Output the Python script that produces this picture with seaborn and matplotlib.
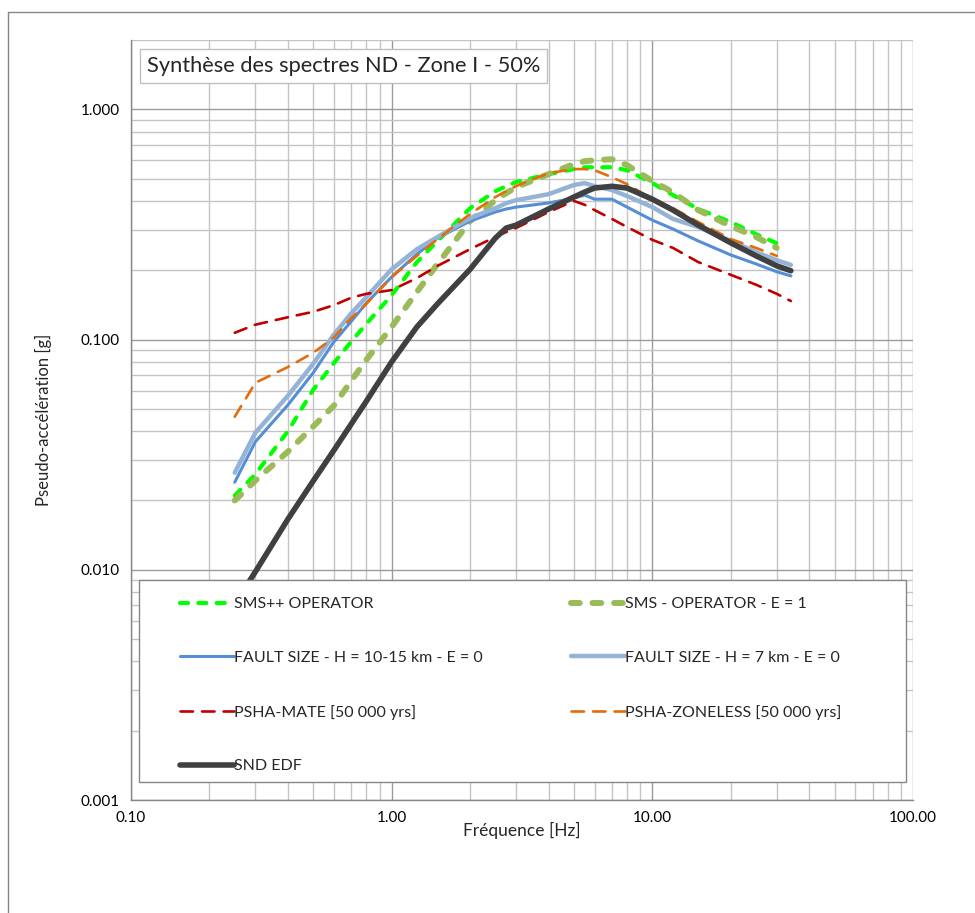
import numpy as np
import pandas as pd
import matplotlib
matplotlib.use("Agg")
import matplotlib.pyplot as plt
import matplotlib.ticker as mticker
from matplotlib.lines import Line2D
from matplotlib.patches import Rectangle
import seaborn as sns

# ---------------- data ----------------
freq = [0.25, 0.3, 0.4, 0.5, 0.6, 0.7, 0.8, 1.0, 1.25, 1.5, 2.0, 2.5, 2.75, 3.0,
        4.0, 5.0, 5.5, 6.0, 7.0, 8.0, 10.0, 12.0, 15.0, 20.0, 25.0, 30.0, 34.0]

sms_pp_operator = [0.021, 0.026, 0.040, 0.0605, 0.079, 0.098, 0.117, 0.156, 0.217, 0.268,
                   0.372, 0.441, 0.463, 0.483, 0.523, 0.55, 0.56, 0.56, 0.56, 0.544,
                   0.478, 0.424, 0.369, 0.324, 0.287, 0.262, np.nan]
sms_operator_e1 = [0.020, 0.0244, 0.0326, 0.0419, 0.0516, 0.0662, 0.0817, 0.1135, 0.161, 0.213,
                   0.327, 0.403, 0.432, 0.459, 0.523, 0.578, 0.595, 0.601, 0.607, 0.572,
                   0.488, 0.436, 0.365, 0.311, 0.279, 0.25, np.nan]
fault_10_15 = [0.024, 0.036, 0.052, 0.0717, 0.0977, 0.12, 0.144, 0.187, 0.235, 0.276,
               0.327, 0.358, 0.369, 0.376, 0.392, 0.411, 0.424, 0.407, 0.407, 0.376,
               0.33, 0.302, 0.268, 0.233, 0.213, 0.197, 0.189]
fault_7 = [0.0264, 0.0394, 0.057, 0.0785, 0.105, 0.13, 0.153, 0.202, 0.247, 0.279,
           0.337, 0.372, 0.391, 0.403, 0.428, 0.469, 0.478, 0.464, 0.446, 0.42,
           0.376, 0.334, 0.308, 0.268, 0.24, 0.221, 0.211]
psha_mate = [0.107, 0.116, 0.125, 0.132, 0.141, 0.152, 0.158, 0.164, 0.185, 0.209,
             0.247, 0.279, 0.293, 0.305, 0.358, 0.40, 0.385, 0.365, 0.334, 0.308,
             0.271, 0.25, 0.217, 0.191, 0.173, 0.158, 0.147]
psha_zoneless = [0.0462, 0.0649, 0.076, 0.0876, 0.102, 0.124, 0.143, 0.187, 0.231, 0.273,
                 0.351, 0.416, 0.441, 0.464, 0.528, 0.55, 0.55, 0.544, 0.507, 0.473,
                 0.407, 0.372, 0.324, 0.273, 0.25, 0.231, np.nan]
snd_edf = [0.0071, 0.0098, 0.0166, 0.0243, 0.033, 0.043, 0.054, 0.080, 0.1135, 0.143,
           0.202, 0.276, 0.305, 0.314, 0.369, 0.416, 0.437, 0.455, 0.463, 0.455,
           0.407, 0.365, 0.314, 0.263, 0.231, 0.209, 0.199]

labels = ["SMS++ OPERATOR", "SMS - OPERATOR - E = 1", "FAULT SIZE - H = 10-15 km - E = 0",
          "FAULT SIZE - H = 7 km - E = 0", "PSHA-MATE [50 000 yrs]",
          "PSHA-ZONELESS [50 000 yrs]", "SND EDF"]
series = [sms_pp_operator, sms_operator_e1, fault_10_15, fault_7, psha_mate,
          psha_zoneless, snd_edf]

x_ticks = [0.1, 1, 10, 100]
x_tick_labels = ["0.10", "1.00", "10.00", "100.00"]
y_ticks = [0.001, 0.01, 0.1, 1.0]
y_tick_labels = ["0.001", "0.010", "0.100", "1.000"]

title_text = "Synthèse des spectres ND - Zone I - 50%"

# ---------------- styles ----------------
styles = [
    dict(color="#00FF00", lw=3.0, dashes=(5.8, 7.4), cap="round"),
    dict(color="#9BBB59", lw=4.3, dashes=(6.3, 9.2), cap="round"),
    dict(color="#558ED5", lw=2.2, dashes=None, cap="round"),
    dict(color="#95B3D7", lw=3.2, dashes=None, cap="round"),
    dict(color="#C00000", lw=1.9, dashes=(9.0, 6.5), cap="round"),
    dict(color="#E46C0A", lw=1.9, dashes=(9.0, 6.5), cap="round"),
    dict(color="#404040", lw=4.0, dashes=None, cap="round"),
]

sns.set_style("white")
plt.rcParams["font.family"] = ["Lato", "DejaVu Sans"]
plt.rcParams["lines.scale_dashes"] = False

fig = plt.figure(figsize=(9.75, 9.13), dpi=100)
ax = fig.add_axes([131 / 975, 113 / 913, 782 / 975, 760 / 913])

for lab, vals, st in zip(labels, series, styles):
    d = pd.DataFrame({"freq": freq, "val": vals}).dropna()
    sns.lineplot(data=d, x="freq", y="val", ax=ax, color=st["color"], lw=st["lw"],
                 legend=False, sort=False, estimator=None)
    ln = ax.lines[-1]
    ln.set_solid_capstyle(st["cap"])
    ln.set_dash_capstyle(st["cap"])
    ln.set_solid_joinstyle("round")
    if st["dashes"] is not None:
        ln.set_dashes(st["dashes"])

ax.set_xscale("log")
ax.set_yscale("log")
ax.set_xlim(0.1, 100)
ax.set_ylim(0.001, 2.0)

ax.xaxis.set_major_locator(mticker.FixedLocator(x_ticks))
ax.xaxis.set_major_formatter(mticker.FixedFormatter(x_tick_labels))
ax.yaxis.set_major_locator(mticker.FixedLocator(y_ticks))
ax.yaxis.set_major_formatter(mticker.FixedFormatter(y_tick_labels))
ax.xaxis.set_minor_locator(mticker.LogLocator(base=10, subs=np.arange(2, 10), numticks=20))
ax.yaxis.set_minor_locator(mticker.LogLocator(base=10, subs=np.arange(2, 10), numticks=20))
ax.xaxis.set_minor_formatter(mticker.NullFormatter())
ax.yaxis.set_minor_formatter(mticker.NullFormatter())

ax.grid(True, which="major", color="#9A9A9A", lw=1.0)
ax.grid(True, which="minor", color="#C4C4C4", lw=1.0)
ax.set_axisbelow(True)

for s in ["top", "right"]:
    ax.spines[s].set_visible(False)
for s in ["left", "bottom"]:
    ax.spines[s].set_color("#868686")
    ax.spines[s].set_linewidth(1.0)

ax.tick_params(axis="both", which="major", direction="out", length=5, width=1,
               color="#868686", labelsize=11, labelcolor="#000000", pad=3)
ax.tick_params(axis="both", which="minor", length=0)

ax.set_xlabel("Fréquence [Hz]", fontsize=12.5, labelpad=-2)
ax.set_ylabel("Pseudo-accélération [g]", fontsize=12, labelpad=21)

# title box
fig.text(147 / 975, 1 - 66 / 913, title_text, fontsize=15.7, va="center", ha="left",
         bbox=dict(boxstyle="square,pad=0.32", fc="white", ec="#BFBFBF", lw=1.0))

# legend frame and legend
ax.add_patch(Rectangle(((139 - 131) / 782, (800 - 782) / 760), (906 - 139) / 782,
                       (782 - 580) / 760, transform=ax.transAxes, fc="white",
                       ec="#868686", lw=1.0, zorder=5))
handles = [Line2D([], [], color=st["color"], lw=st["lw"],
                  linestyle=(0, st["dashes"]) if st["dashes"] else "-",
                  solid_capstyle="round", dash_capstyle="round") for st in styles]
order = [0, 2, 4, 6, 1, 3, 5]
leg = ax.legend([handles[i] for i in order], [labels[i] for i in order], ncol=2,
                loc="upper left", bbox_to_anchor=((180 - 131) / 782, (800 - 597) / 760),
                frameon=False, fontsize=11.5, handlelength=3.4, handletextpad=0.0,
                labelspacing=2.48, columnspacing=5.5, borderaxespad=0, borderpad=0)
leg.set_zorder(6)

# outer chart border
fig.add_artist(Line2D([8 / 975, 8 / 975], [0, 1 - 12 / 913], transform=fig.transFigure,
                      color="#868686", lw=1.0))
fig.add_artist(Line2D([8 / 975, 1], [1 - 12 / 913, 1 - 12 / 913], transform=fig.transFigure,
                      color="#868686", lw=1.0))

fig.savefig("out.png", dpi=100, facecolor="white")
